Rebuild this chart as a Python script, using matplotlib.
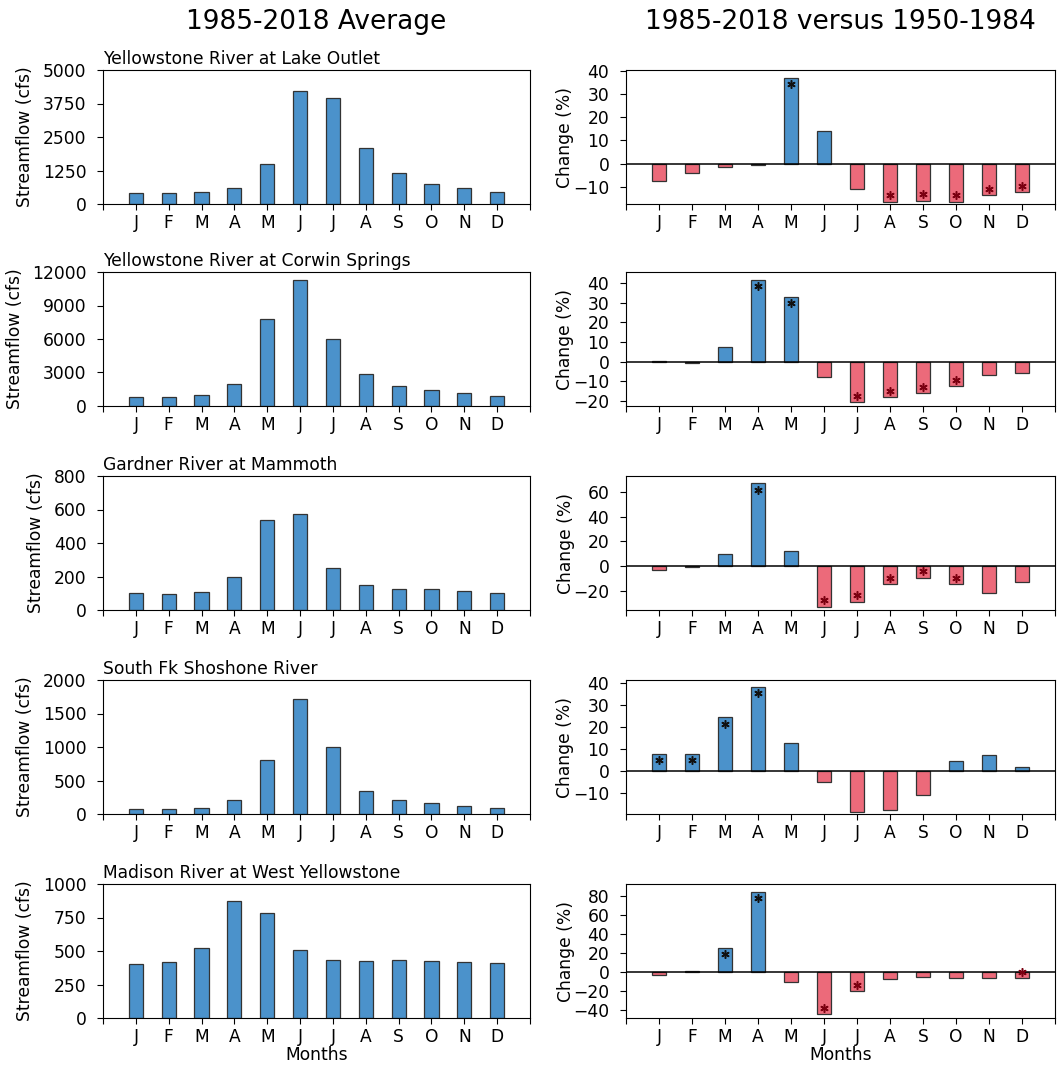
import matplotlib
matplotlib.use("Agg")
import matplotlib.pyplot as plt
import matplotlib.transforms as mtransforms
import numpy as np

months = ["J", "F", "M", "A", "M", "J", "J", "A", "S", "O", "N", "D"]

stations = [
    "Yellowstone River at Lake Outlet",
    "Yellowstone River at Corwin Springs",
    "Gardner River at Mammoth",
    "South Fk Shoshone River",
    "Madison River at West Yellowstone",
]

# 1985-2018 average streamflow (cfs)
flow_lake = [400, 410, 450, 580, 1480, 4230, 3950, 2080, 1140, 760, 580, 460]
flow_corwin = [800, 800, 950, 1950, 7800, 11300, 6000, 2850, 1750, 1400, 1150, 900]
flow_gardner = [100, 97, 108, 200, 540, 575, 250, 150, 128, 125, 112, 100]
flow_shoshone = [80, 80, 95, 210, 800, 1720, 1000, 340, 210, 170, 120, 90]
flow_madison = [400, 415, 520, 875, 780, 510, 435, 425, 430, 425, 415, 410]

# Percent change 1985-2018 versus 1950-1984
chg_lake = [-7.5, -4, -1.5, -0.5, 37, 14, -11, -16.5, -16, -16.5, -13.5, -12.5]
chg_corwin = [0.5, -0.5, 7.5, 41.5, 33, -8, -20.5, -18, -16, -12.5, -7, -6]
chg_gardner = [-3.5, -1, 10, 67, 12.5, -33, -29, -14.5, -9.5, -14.5, -22, -13]
chg_shoshone = [8, 8, 24.5, 38.5, 13, -5, -18.5, -17.5, -11, 4.5, 7.5, 2]
chg_madison = [-3, 1, 26, 85, -10, -44, -19.5, -7, -4.5, -5.5, -5.5, -6]

# significance flags (asterisk)
sig_lake = [0, 0, 0, 0, 1, 0, 0, 1, 1, 1, 1, 1]
sig_corwin = [0, 0, 0, 1, 1, 0, 1, 1, 1, 1, 0, 0]
sig_gardner = [0, 0, 0, 1, 0, 1, 1, 1, 1, 1, 0, 0]
sig_shoshone = [1, 1, 1, 1, 0, 0, 0, 0, 0, 0, 0, 0]
sig_madison = [0, 0, 1, 1, 0, 1, 1, 0, 0, 0, 0, 1]

flows = [flow_lake, flow_corwin, flow_gardner, flow_shoshone, flow_madison]
changes = [chg_lake, chg_corwin, chg_gardner, chg_shoshone, chg_madison]
sigs = [sig_lake, sig_corwin, sig_gardner, sig_shoshone, sig_madison]

flow_ticks = [
    [0, 1250, 2500, 3750, 5000],
    [0, 3000, 6000, 9000, 12000],
    [0, 200, 400, 600, 800],
    [0, 500, 1000, 1500, 2000],
    [0, 250, 500, 750, 1000],
]
chg_ticks = [
    [-10, 0, 10, 20, 30, 40],
    [-20, -10, 0, 10, 20, 30, 40],
    [-20, 0, 20, 40, 60],
    [-10, 0, 10, 20, 30, 40],
    [-40, -20, 0, 20, 40, 60, 80],
]
chg_lims = [(-17.5, 40.5), (-22.5, 45.5), (-35.7, 73), (-19.5, 41.5), (-48, 93)]

BLUE = "#4b92cb"
RED = "#ec6a7a"
EDGE = "#333333"
FS = 12.3

W, H = 1062, 1068
fig = plt.figure(figsize=(W / 100, H / 100), dpi=100)

row_tops = [70, 272, 476, 680, 884]
ax_h = 134
left_x, left_w = 103, 427
right_x, right_w = 626, 429

x = np.arange(1, 13)
tick_pos = np.arange(0, 14)
tick_lab = [""] + months + [""]

for i in range(5):
    bottom = 1 - (row_tops[i] + ax_h) / H
    axl = fig.add_axes([left_x / W, bottom, left_w / W, ax_h / H])
    axr = fig.add_axes([right_x / W, bottom, right_w / W, ax_h / H])

    # left: average streamflow
    axl.bar(x, flows[i], width=0.43, color=BLUE, edgecolor=EDGE, linewidth=0.9)
    axl.set_xlim(0, 13)
    axl.set_ylim(0, flow_ticks[i][-1])
    axl.set_yticks(flow_ticks[i])
    axl.set_xticks(tick_pos)
    axl.set_xticklabels(tick_lab)
    axl.set_ylabel("Streamflow (cfs)", fontsize=FS, labelpad=6)
    axl.set_title(stations[i], loc="left", fontsize=FS, pad=4)
    axl.tick_params(axis="x", labelsize=FS, length=4.5, pad=3)
    axl.tick_params(axis="y", labelsize=FS, length=4.5, pad=7.5)

    # right: percent change
    vals = np.array(changes[i])
    cols = [BLUE if v >= 0 else RED for v in vals]
    axr.bar(x, vals, width=0.43, color=cols, edgecolor=EDGE, linewidth=0.9)
    axr.axhline(0, color="black", linewidth=1.1)
    axr.set_xlim(0, 13)
    axr.set_ylim(*chg_lims[i])
    axr.set_yticks(chg_ticks[i])
    axr.set_xticks(tick_pos)
    axr.set_xticklabels(tick_lab)
    axr.set_ylabel("Change (%)", fontsize=FS, labelpad=-1)
    axr.tick_params(axis="x", labelsize=FS, length=4.5, pad=3)
    axr.tick_params(axis="y", labelsize=FS, length=4.5, pad=7.5)

    for xi, v, s in zip(x, vals, sigs[i]):
        if s:
            dy = -4.5 if v >= 0 else 4.5
            tr = mtransforms.offset_copy(axr.transData, fig=fig, x=0, y=dy, units="points")
            axr.plot([xi], [v], marker=(6, 2, 0), markersize=6, markeredgewidth=1.1,
                     color="#111111" if v >= 0 else "#7a0010",
                     transform=tr, linestyle="none")

    if i == 4:
        axl.set_xlabel("Months", fontsize=FS, labelpad=0)
        axr.set_xlabel("Months", fontsize=FS, labelpad=0)

fig.text((left_x + left_w / 2) / W, 1 - 22 / H, "1985-2018 Average",
         ha="center", va="center", fontsize=19)
fig.text((right_x + right_w / 2) / W, 1 - 22 / H, "1985-2018 versus 1950-1984",
         ha="center", va="center", fontsize=19)

fig.savefig("out.png", dpi=100)
